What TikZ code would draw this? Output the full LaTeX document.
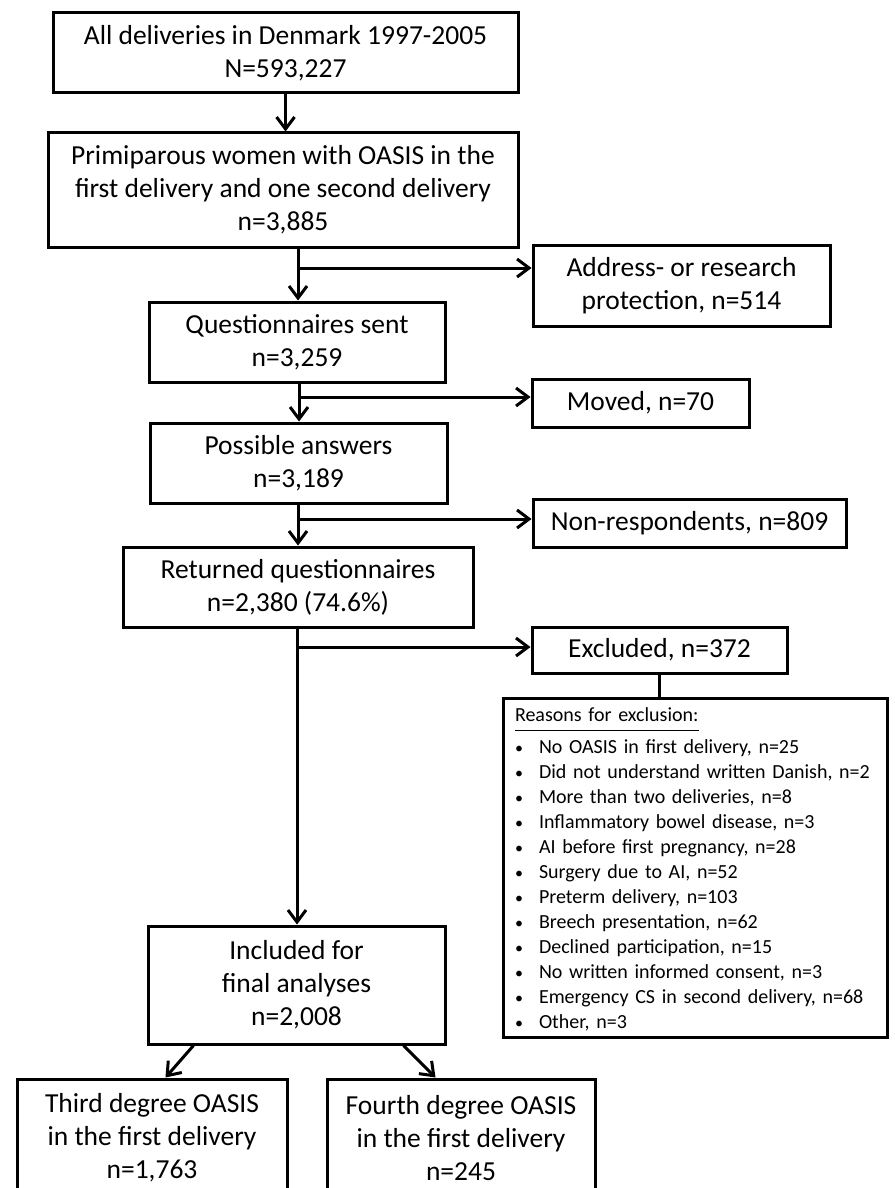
\documentclass[tikz,border=0pt]{standalone}
\usepackage{fontspec}
\setmainfont{Carlito}
\usetikzlibrary{arrows.meta}

\tikzset{
  box/.style={draw, line width=3pt, align=center, inner sep=0pt,
    font=\fontsize{27.5}{33}\selectfont},
  arr/.style={-{Straight Barb[length=12pt,width=18pt]}, line width=3pt},
}
\newcommand{\reason}{\makebox[24pt][l]{{\fontsize{16}{16}\selectfont\textbullet}}}

\begin{document}
\begin{tikzpicture}[x=1pt,y=-1pt]
  \clip (0,0) rectangle (894,1188);
  \fill[white] (0,0) rectangle (894,1188);

  % main column
  \node[box, minimum width=465pt, minimum height=80pt] (all) at (285.5,53)
    {All deliveries in Denmark 1997-2005\\N=593,227};
  \node[box, minimum width=470pt, minimum height=114pt] (prim) at (283,190)
    {Primiparous women with OASIS in the\\first delivery and one second delivery\\n=3,885};
  \node[box, minimum width=296pt, minimum height=80pt] (sent) at (297,342)
    {Questionnaires sent\\n=3,259};
  \node[box, minimum width=297pt, minimum height=80pt] (poss) at (298.5,463)
    {Possible answers\\n=3,189};
  \node[box, minimum width=350pt, minimum height=80pt] (ret) at (298,587)
    {Returned questionnaires\\n=2,380 (74.6\%)};
  \node[box, minimum width=297pt, minimum height=118pt] (incl) at (296.5,985)
    {Included for\\final analyses\\n=2,008};
  \node[box, minimum width=270pt, minimum height=118pt] (third) at (152,1138)
    {Third degree OASIS\\in the first delivery\\n=1,763};
  \node[box, minimum width=268pt, minimum height=118pt] (fourth) at (461,1138)
    {Fourth degree OASIS\\in the first delivery\\n=245};

  % side boxes
  \node[box, minimum width=297pt, minimum height=81pt] (addr) at (681.5,285.5)
    {Address- or research\\protection, n=514};
  \node[box, minimum width=217pt, minimum height=48pt] (moved) at (640.5,403)
    {Moved, n=70};
  \node[box, minimum width=313pt, minimum height=48pt] (nonresp) at (689.5,523)
    {Non-respondents, n=809};
  \node[box, minimum width=255pt, minimum height=46pt] (excl) at (659.5,650)
    {Excluded, n=372};
  \node[box, align=left, text width=360pt, minimum width=384pt, minimum height=339pt,
    font=\fontsize{20}{25}\selectfont] (reasons) at (695,867.5)
    {\underline{\strut Reasons for exclusion:}\\[7pt]
     \reason No OASIS in first delivery, n=25\\
     \reason Did not understand written Danish, n=2\\
     \reason More than two deliveries, n=8\\
     \reason Inflammatory bowel disease, n=3\\
     \reason AI before first pregnancy, n=28\\
     \reason Surgery due to AI, n=52\\
     \reason Preterm delivery, n=103\\
     \reason Breech presentation, n=62\\
     \reason Declined participation, n=15\\
     \reason No written informed consent, n=3\\
     \reason Emergency CS in second delivery, n=68\\
     \reason Other, n=3};

  % branch points
  \coordinate (j1) at (298,268);
  \coordinate (j2) at (299,397);
  \coordinate (j3) at (298,519);
  \coordinate (j4) at (297,647);

  \begin{scope}[arr]
    \draw (all.south) to (all.south |- prim.north);
    \draw (prim.south -| j1) to (sent.north -| j1);
    \draw (j1) to (j1 -| addr.west);
    \draw (sent.south -| j2) to (poss.north -| j2);
    \draw (j2) to (j2 -| moved.west);
    \draw (poss.south -| j3) to (ret.north -| j3);
    \draw (j3) to (j3 -| nonresp.west);
    \draw (ret.south -| j4) to (incl.north -| j4);
    \draw (j4) to (j4 -| excl.west);
    \draw ([xshift=47pt]incl.south west) to ([xshift=150pt]third.north west);
    \draw ([xshift=-43pt]incl.south east) to ([xshift=110pt]fourth.north west);
  \end{scope}
  \draw[line width=3pt] (excl.south) to (excl.south |- reasons.north);
\end{tikzpicture}
\end{document}
